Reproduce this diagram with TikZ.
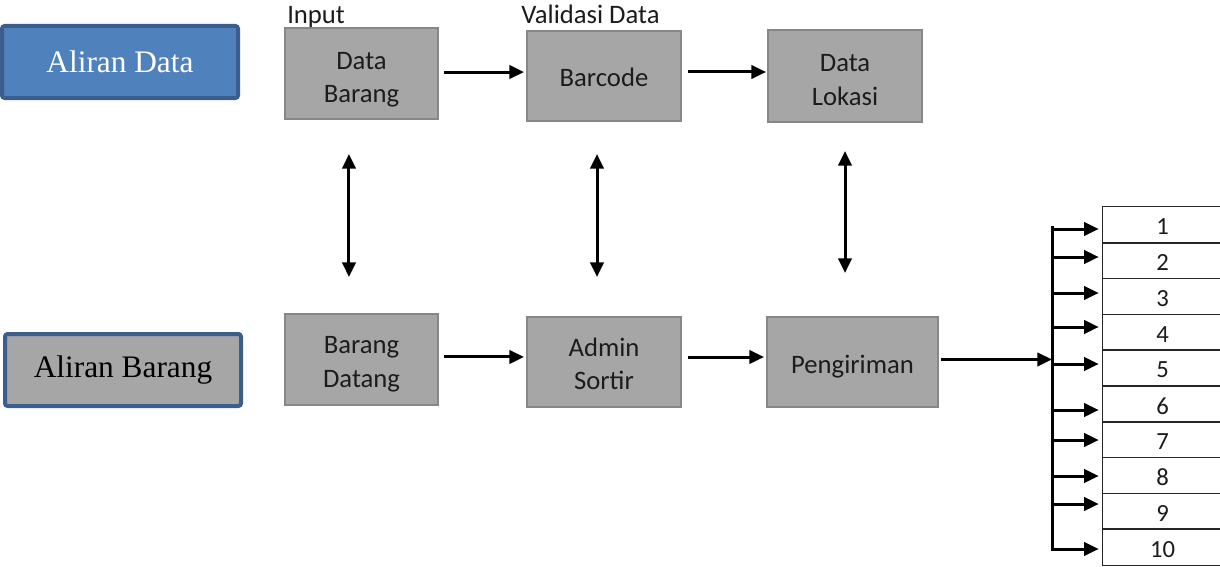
\documentclass[tikz,border=0pt]{standalone}
\usepackage{fontspec}
\setmainfont{Carlito}
\newfontfamily\timesf{Liberation Serif}
\usetikzlibrary{arrows.meta}
\definecolor{boxgray}{HTML}{A6A6A6}
\definecolor{boxedge}{HTML}{878787}
\definecolor{legblue}{HTML}{4F81BD}
\definecolor{legedge}{HTML}{3B5E8C}
\definecolor{txt}{HTML}{1C1C1C}
\newcommand\tstrut{\rule{0pt}{21pt}}
\newcommand\bstrut{\rule[-4.5pt]{0pt}{4.5pt}}
\newcommand\mstrut{\rule{0pt}{23pt}}
\begin{document}
\begin{tikzpicture}[x=0.75pt,y=-0.75pt,
  proc/.style={draw=boxedge, fill=boxgray, line width=1.5pt, text=txt, align=center,
    font=\fontsize{20}{25}\selectfont, inner sep=0pt},
  legend/.style={draw=legedge, line width=3pt, rounded corners=2pt, inner sep=0pt,
    minimum width={236*0.75pt}, minimum height={72*0.75pt}, font=\timesf\fontsize{23.5}{28}\selectfont},
  lbl/.style={anchor=base west, inner sep=0pt, text=txt, font=\fontsize{20}{25}\selectfont},
  flow/.style={line width=2.25pt, -{Triangle[length=11pt,width=10pt]}},
  dflow/.style={line width=2.25pt, {Triangle[length=11pt,width=10pt]}-{Triangle[length=11pt,width=10pt]}},
  row/.style={inner sep=0pt, text=txt, font=\fontsize{18.5}{22}\selectfont},
  rowline/.style={line width=0.9pt, draw=black!85}
]
\useasboundingbox[fill=white] (0,0) rectangle (1220,567);

% legend
\node[legend, fill=legblue, text=white] (ad) at (120,62) {Aliran Data};
\node[legend, fill=boxgray, text=black] (ab) at (123,370) {Aliran Barang};

% labels
\node[lbl] (linput) at (287,23.5) {Input};
\node[lbl] (lvalid) at (521,23.5) {Validasi Data};

% process boxes
\node[proc, minimum width={153*0.75pt}, minimum height={91*0.75pt}] (db) at (361.5,73.5) {\mstrut Data\\Barang\bstrut};
\node[proc, minimum width={154*0.75pt}, minimum height={90*0.75pt}] (bc) at (604,76) {\tstrut Barcode\bstrut};
\node[proc, minimum width={154*0.75pt}, minimum height={92*0.75pt}] (dl) at (845,76) {\mstrut Data\\Lokasi\bstrut};
\node[proc, minimum width={153*0.75pt}, minimum height={91*0.75pt}] (bd) at (361.5,359.5) {\tstrut Barang\\Datang\bstrut};
\node[proc, minimum width={154*0.75pt}, minimum height={90*0.75pt}] (as) at (604,362) {\tstrut Admin\\Sortir\bstrut};
\node[proc, minimum width={171*0.75pt}, minimum height={90*0.75pt}] (pg) at (852.5,362) {\tstrut Pengiriman\bstrut};

% horizontal arrows
\draw[flow, shorten <=3.75pt, shorten >=1.5pt] ([yshift=1.1pt]db.east) -- ([yshift=1.1pt]db.east -| bc.west);
\draw[flow, shorten <=4.5pt, shorten >=0.75pt] ([yshift=3pt]bc.east) -- ([yshift=3pt]bc.east -| dl.west);
\draw[flow, shorten <=3.75pt, shorten >=1.5pt] ([yshift=1.9pt]bd.east) -- ([yshift=1.9pt]bd.east -| as.west);
\draw[flow, shorten <=4.5pt, shorten >=1.5pt] ([yshift=3.75pt]as.east) -- ([yshift=3.75pt]as.east -| pg.west);

% vertical double arrows
\draw[dflow, shorten <=25.5pt, shorten >=27pt] ([xshift=-9.4pt]db.south) -- ([xshift=-9.4pt]db.south |- bd.north);
\draw[dflow, shorten <=24pt, shorten >=29.25pt] ([xshift=-5.25pt]bc.south) -- ([xshift=-5.25pt]bc.south |- as.north);
\draw[dflow, shorten <=21pt, shorten >=32.25pt] (dl.south) -- (dl.south |- pg.north);

% table rows
\foreach \i in {1,...,10}{
  \node[row, minimum width={119*0.75pt}, minimum height={35.8*0.75pt}] (r\i) at (1162.5,{207+35.8*(\i-0.5)}) {};
  \node[row] (n\i) at ([yshift=-1.5pt]r\i.center) {\i};
  \draw[rowline] (r\i.north east) -- (r\i.north west) -- (r\i.south west) -- (r\i.south east);
}

% bus
\coordinate (busTop) at (1052,226);
\coordinate (busBot) at (1052,551);
\draw[line width=2.25pt] (busTop) -- (busBot);
\draw[flow, shorten <=1.5pt, shorten >=0pt] ([yshift=1.9pt]pg.east) -- ([yshift=1.9pt]pg.east -| busTop);
\foreach \i/\y in {1/229,2/257,3/293,4/327,5/364,6/410,7/440,8/476,9/504,10/549}{
  \coordinate (b\i) at (1052,\y);
  \draw[flow, shorten >=3pt] (b\i) -- (b\i -| r\i.west);
}
\end{tikzpicture}
\end{document}
